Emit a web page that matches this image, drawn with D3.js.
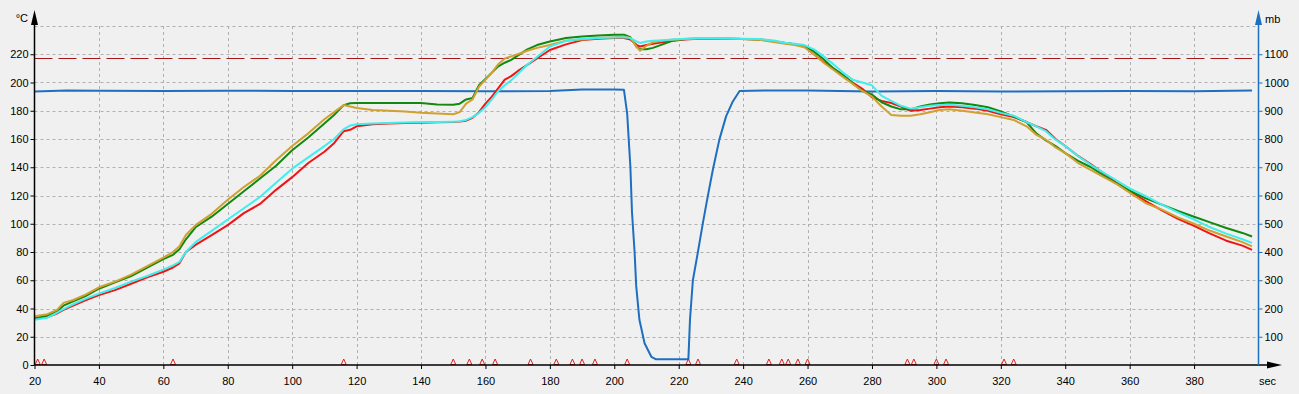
<!DOCTYPE html>
<html>
<head>
<meta charset="utf-8">
<script src="https://cdn.jsdelivr.net/npm/d3@7"></script>
<style>
    body { margin: 0; background: #f0f0f0; }
    text { font-family: 'Liberation Sans', Arial, sans-serif; font-size: 11px; fill: #000; }
</style>
</head>
<body>
<div id="vis"></div>
<script>
var secs = [20,24,27,29,32,36,40,
    45,50,55,60,63,65,67,70,
    75,80,85,90,95,100,105,110,
    113,116,118,120,125,130,135,140,
    145,150,152,154,156,158,160,162,
    164,166,168,170,173,176,180,185,
    190,195,200,203,205,207,208,210,
    212,215,218,222,226,230,235,240,
    245,250,253,256,259,262,265,268,
    271,274,277,280,283,286,289,292,
    295,298,301,304,308,312,316,320,
    324,328,331,334,337,340,344,348,
    352,356,360,365,370,375,380,385,
    390,395,398];

var tGreen = [33,35,38,42,45,49,54,
    58.5,63,69,75,78,82,89,97.5,
    105,114,123,132,141,152,161,171,
    177,184,185.3,185.5,185.5,185.5,185.5,185.5,
    184.5,184.3,185,188,189,198,202.5,207,
    211.5,214,216,219,223.5,226.5,229,231.5,
    232.5,233.2,233.8,233.8,232,225,223.5,223.5,
    224.5,227,229.5,230.8,231,231,231,230.8,
    230.5,229,228,227,225.5,222,216.5,210,
    205.5,199.5,194,191.5,186,183,181,181,
    183,184.5,185.3,185.8,185.3,184,182.5,179.5,
    176,172,164,159,155,150,144.5,140,
    134,128.5,123.5,118,113.5,109,105,101,
    97,93.5,91];

var tRed = [33,34,36.5,39,42,46,49.5,
    53,57.5,62,66,69,72,80,85,
    92,99,107.5,114,124,133,143,151,
    157,165.5,166.5,169,170.5,171,171.3,171.5,
    171.8,172,172.3,173,175,179,185,190,
    196,202,204.5,208,212.5,217,223,227,
    230,231,231.5,231.5,230.5,226.5,225.5,226.5,
    227.5,228.5,229.5,230.5,231,231,231,230.8,
    230.5,229,228,227,225.5,220,214.5,210,
    205,200,195.5,189.5,187,185.5,183,180,
    180.5,181.5,182.5,183,182.5,181.5,180,177.5,
    175.5,172,169,166.5,160,155,148,142,
    135.5,129,123,116,109.5,103.5,98.5,93,
    88,84.5,81.5];

var tGold = [34.5,36,39,44,46,50,55,
    59,64,70,76,80,84,92,99,
    107,117,126,134,145,155,164,174,
    179,184,183,182,180.5,180,179.5,178.5,
    178,177.5,179,185,188,197,202,207,
    213,217,218.5,220,222.5,224.5,226.5,229.5,
    230.5,231.5,232,232.5,231.5,225,222.5,226,
    228.5,229.5,230.3,230.8,231,231,231,230.8,
    230.3,228.5,227.5,226.5,225,220,214,209,
    204,199,194,190,183,177,176.5,176.5,
    177.5,179,180.5,181,180,178.8,177.5,175.5,
    173.5,169,163,159.5,154,150,143,138,
    133,128,122,114.5,110,104.5,100,95,
    91,87,84];

var tCyan = [32,33.5,37,39.5,43,47,50.5,
    54.5,59,63,67.5,70.5,73,80,87,
    95,103,111,119,129,139,147,155,
    160,167,169.5,170.5,171,171.3,171.6,171.8,
    172,172.3,172.5,173.5,175.5,178.5,182.5,188,
    194,198,201.5,206,212.5,218,225.5,229.5,
    231,231.5,231.8,232,231.5,229,228,229,
    229.5,230,230.5,231,231.5,231.5,231.3,231,
    230.8,229.5,228.2,227.5,226.5,223.5,218.5,213,
    207,202,200,198,190.5,187,183.5,181.5,
    182.5,183.5,184,184.3,183.5,182.5,181,178.5,
    176.5,172,169,165.5,159.5,155,148,141.5,
    136,130.5,125,119.5,113.5,108,103,97.5,
    93,89,86.5];

// pressure, mb (right axis)
var pSecs = [20,30,40,60,80,100,120,140,160,180,
    190,200,203,204,205,205.5,206.3,206.8,207.8,209.4,
    211.5,213,223,223.5,224.4,225.9,227.5,229,230.6,232.6,
    234.7,236.8,238.9,250,260,280,300,320,340,360,
    380,398];
var pVals = [968,972,971,970,971,970,970,970,969,970,
    975,975,974,890,700,540,400,280,160,77,
    29,20,20,160,300,396,502,596,691,797,
    880,933,970,972,972,968,970,968,969,970,
    969,972];

var markerSecs = [21,23,63,116,150,155,159,163,174,182,187,190,194,204,
    223,226,238,248,252,254,257,260,291,293,300,303,321,324];

var liquidus = 217;

var xTicks = d3.range(20, 400, 20);
var yTicks = d3.range(0, 240, 20);
var pTicks = d3.range(100, 1200, 100);

var width = 1299;
var height = 394;
var margin = { top: 26, right: 40.5, bottom: 29, left: 34.5 };

var svg = d3.select('#vis')
            .append('svg')
            .attr('width', width)
            .attr('height', height)
            .style('display', 'block');

svg.append('rect').attr('width', width).attr('height', height).attr('fill', '#f0f0f0');

var xScale = d3.scaleLinear().domain([20, 400]).range([margin.left, width - margin.right]);
var yScale = d3.scaleLinear().domain([0, 240]).range([height - margin.bottom, margin.top]);
var pScale = d3.scaleLinear().domain([0, 1200]).range([height - margin.bottom, margin.top]);

var x0 = xScale(20), x1 = xScale(400), yb = yScale(0), yt = yScale(240);

// grid
var grid = svg.append('g').attr('stroke', '#b0b0b0').attr('stroke-dasharray', '3,3').attr('stroke-width', 1);
grid.selectAll('.vg').data(xTicks.slice(1)).enter().append('line')
    .attr('x1', function(d) { return Math.round(xScale(d)) + 0.5; })
    .attr('x2', function(d) { return Math.round(xScale(d)) + 0.5; })
    .attr('y1', yt).attr('y2', yb);
grid.selectAll('.hg').data(yTicks.slice(1).concat([240])).enter().append('line')
    .attr('y1', function(d) { return Math.round(yScale(d)) + 0.5; })
    .attr('y2', function(d) { return Math.round(yScale(d)) + 0.5; })
    .attr('x1', x0).attr('x2', x1);

// liquidus line
svg.append('line')
    .attr('x1', x0).attr('x2', xScale(398))
    .attr('y1', yScale(liquidus)).attr('y2', yScale(liquidus))
    .attr('stroke', '#a01818').attr('stroke-width', 1.2)
    .attr('stroke-dasharray', '18,6');

// pressure
var pLine = d3.line()
    .x(function(d, i) { return xScale(pSecs[i]); })
    .y(function(d) { return pScale(d); });
svg.append('path').datum(pVals)
    .attr('d', pLine)
    .attr('fill', 'none').attr('stroke', '#1e6fc0').attr('stroke-width', 2)
    .attr('stroke-linejoin', 'round');

// temperatures
var tLine = d3.line()
    .x(function(d, i) { return xScale(secs[i]); })
    .y(function(d) { return yScale(d); });

var series = [
    { vals: tRed, color: '#f01414' },
    { vals: tGreen, color: '#11880f' },
    { vals: tGold, color: '#d0a030' },
    { vals: tCyan, color: '#40eeee' }
];
series.forEach(function(s) {
    svg.append('path').datum(s.vals)
        .attr('d', tLine)
        .attr('fill', 'none').attr('stroke', s.color).attr('stroke-width', 2)
        .attr('stroke-linejoin', 'round');
});

// event markers along the bottom
svg.selectAll('.mk').data(markerSecs).enter().append('path')
    .attr('d', function(d) {
        var cx = xScale(d);
        return 'M' + (cx - 2.5) + ',' + (yb - 0.5) + 'L' + cx + ',' + (yb - 6) + 'L' + (cx + 2.5) + ',' + (yb - 0.5) + 'Z';
    })
    .attr('fill', 'none').attr('stroke', '#e02020').attr('stroke-width', 1);

// axes
var xAxis = d3.axisBottom(xScale).tickValues(xTicks).tickSize(4).tickPadding(8).tickFormat(d3.format('d'));
var yAxis = d3.axisLeft(yScale).tickValues(yTicks).tickSize(4).tickPadding(2).tickFormat(d3.format('d'));
var pAxis = d3.axisRight(pScale).tickValues(pTicks).tickSize(4).tickPadding(2).tickFormat(d3.format('d'));

var gx = svg.append('g').attr('transform', 'translate(0,' + yb + ')').call(xAxis);
var gy = svg.append('g').attr('transform', 'translate(' + x0 + ',0)').call(yAxis);
var gp = svg.append('g').attr('transform', 'translate(' + x1 + ',0)').call(pAxis);

[gx, gy, gp].forEach(function(g) {
    g.select('.domain').remove();
    g.selectAll('text').style('font-family', "'Liberation Sans', Arial, sans-serif").style('font-size', '11px').attr('fill', '#000');
});
gx.selectAll('line').attr('stroke', '#000');
gy.selectAll('line').attr('stroke', '#000');
gp.selectAll('line').attr('stroke', '#1e6fc0');

// axis lines + arrows
svg.append('line').attr('x1', x0).attr('x2', 1270).attr('y1', yb).attr('y2', yb).attr('stroke', '#000').attr('stroke-width', 1.5);
svg.append('line').attr('x1', x0).attr('x2', x0).attr('y1', 24).attr('y2', yb).attr('stroke', '#000').attr('stroke-width', 1.5);
svg.append('line').attr('x1', x1).attr('x2', x1).attr('y1', 24).attr('y2', yb).attr('stroke', '#1e6fc0').attr('stroke-width', 1.5);

svg.append('path').attr('d', 'M' + (x0 - 3.5) + ',25L' + x0 + ',10L' + (x0 + 3.5) + ',25Z').attr('fill', '#000');
svg.append('path').attr('d', 'M' + (x1 - 3.5) + ',25L' + x1 + ',10L' + (x1 + 3.5) + ',25Z').attr('fill', '#1e6fc0');
svg.append('path').attr('d', 'M1267,' + (yb - 3.5) + 'L1282,' + yb + 'L1267,' + (yb + 3.5) + 'Z').attr('fill', '#000');

svg.append('text').attr('x', 28).attr('y', 22).attr('text-anchor', 'end').text('°C');
svg.append('text').attr('x', 1265).attr('y', 23).text('mb');
svg.append('text').attr('x', 1259).attr('y', 385).text('sec');
</script>
</body>
</html>
